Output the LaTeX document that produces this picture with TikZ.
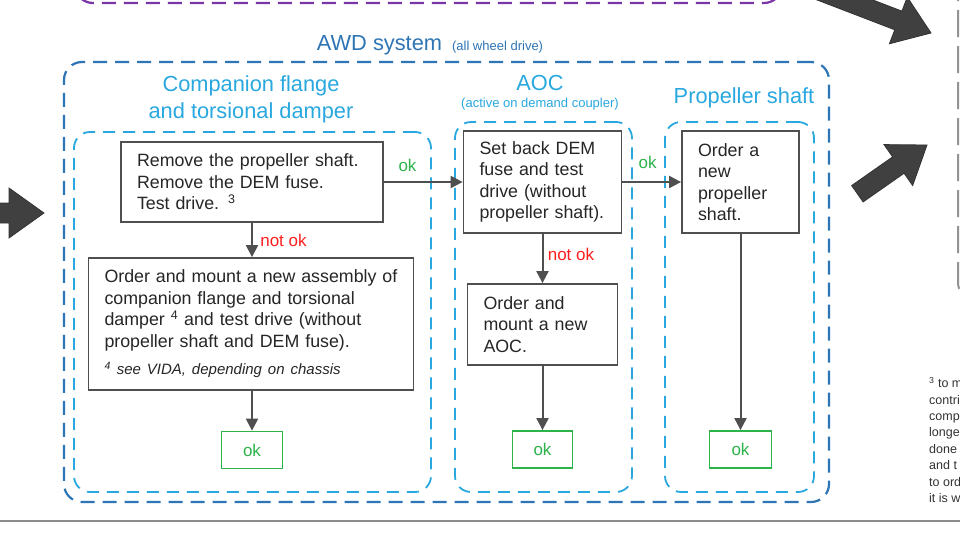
\documentclass[tikz,border=0pt]{standalone}
\usepackage{fontspec}
\setmainfont{Liberation Sans}
\usetikzlibrary{arrows.meta}
\definecolor{awdblue}{HTML}{2E75B6}
\definecolor{grpblue}{HTML}{29A8E0}
\definecolor{boxgray}{HTML}{4F4F4F}
\definecolor{okgreen}{HTML}{2DB34A}
\definecolor{notred}{HTML}{FF1F1F}
\definecolor{prevpurple}{HTML}{7A35A8}
\definecolor{bigarrow}{HTML}{404040}
\begin{document}
\begin{tikzpicture}[x=1pt, y=-1pt,
  task/.style={draw=boxgray, line width=1.8pt, fill=white, text=black!85, align=left, inner xsep=16pt, inner ysep=0pt, font=\fontsize{17.8}{21.5}\selectfont},
  okbox/.style={draw=okgreen, line width=1.8pt, fill=white, text=okgreen, inner sep=0pt, minimum width=61pt, minimum height=37pt, font=\fontsize{17}{20}\selectfont},
  group/.style={draw=grpblue, line width=1.8pt, dash pattern=on 12pt off 8pt, rounded corners=16pt, inner sep=0pt},
  grouptitle/.style={text=grpblue, align=center, font=\fontsize{21.8}{27}\selectfont},
  flow/.style={draw=boxgray, line width=2pt, -{Triangle[length=12pt,width=12pt]}},
  oklabel/.style={text=okgreen, font=\fontsize{17}{20}\selectfont},
  nolabel/.style={text=notred, font=\fontsize{17}{20}\selectfont}]
\useasboundingbox (0,0) rectangle (960,541);
\clip (0,0) rectangle (960,541);
\fill[white] (0,0) rectangle (960,541);
% what lies around the AWD part
\draw[prevpurple, line width=2.2pt, dash pattern=on 14pt off 8pt, rounded corners=18pt] (75,-40) rectangle (782,3);
\draw[gray!85, line width=2pt, dash pattern=on 27pt off 9pt, rounded corners=14pt] (958,-40) rectangle (1010,297);
\draw[gray!90, line width=1.5pt] (0,521) -- (960,521);
\foreach \tip/\ang/\tail in {{44,213}/0/80, {931,33}/-21/130, {927,145}/35/85}
  \filldraw[fill=bigarrow, draw=black!80, line width=0.8pt, shift={(\tip)}, rotate=\ang]
    (0,0) -- (-35,-25) -- (-35,-10) -- (-\tail,-10) -- (-\tail,10) -- (-35,10) -- (-35,25) -- cycle;
\node[anchor=north west, align=left, inner sep=0pt, text=black!80, font=\fontsize{12.5}{16.4}\selectfont] (note) at (929,377)
  {\textsuperscript{3} to m\\contri\\comp\\longe\\done\\and t\\to ord\\it is w};
% groups
\node[group, draw=awdblue, line width=2.2pt, dash pattern=on 14pt off 8pt, rounded corners=18pt, minimum width=765pt, minimum height=440pt] (awd) at (446.5,282) {};
\node[group, minimum width=357pt, minimum height=360pt] (compgrp) at (252.5,312) {};
\node[group, minimum width=177pt, minimum height=370pt] (aocgrp) at (543.5,307) {};
\node[group, minimum width=149pt, minimum height=370pt] (propgrp) at (739.5,307) {};
\node[text=awdblue, font=\fontsize{21.8}{27}\selectfont] (awdtitle) at (430,45)
  {AWD system\hspace{10pt}{\fontsize{13}{15}\selectfont(all wheel drive)}};
\node[grouptitle] (comptitle) at (251,99.5) {Companion flange\\and torsional damper};
\node[grouptitle] (aoctitle) at (540,83) {AOC};
\node[text=grpblue, font=\fontsize{13}{15}\selectfont] (aocsub) at (540,104) {(active on demand coupler)};
\node[grouptitle] (proptitle) at (744,97.5) {Propeller shaft};
% steps
\node[task, text width=230pt, minimum height=80pt] (rm) at (252,182)
  {Remove the propeller shaft.\\Remove the DEM fuse.\\Test drive. \textsuperscript{3}};
\node[task, text width=293pt, minimum height=132pt] (mount) at (251,324)
  {Order and mount a new assembly of\\companion flange and torsional\\damper \textsuperscript{4} and test drive (without\\propeller shaft and DEM fuse).\\[6pt]
   {\fontsize{15}{18}\selectfont\itshape\textsuperscript{4} see VIDA, depending on chassis}};
\node[okbox] (okA) at (252,450) {ok};
\node[task, text width=126pt, minimum height=102pt] (setback) at (542.5,182)
  {Set back DEM\\fuse and test\\drive (without\\propeller~shaft).};
\node[task, text width=118pt, minimum height=81pt] (aoc) at (542.5,324.5)
  {Order and\\mount a new\\AOC.};
\node[okbox, minimum width=60pt] (okB) at (542.5,449.5) {ok};
\node[task, text width=85pt, minimum height=102pt] (prop) at (740.5,182)
  {Order a\\new\\propeller\\shaft.};
\node[okbox, minimum width=62pt] (okC) at (740.5,449.5) {ok};
% flow
\draw[flow] (rm) -- node[oklabel, above=6pt, pos=0.3] {ok} (setback);
\draw[flow] (setback) -- node[oklabel, above=9pt, pos=0.43] {ok} (prop);
\draw[flow] (rm.south) -- node[nolabel, right=4pt, pos=0.5] {not ok} (rm.south |- mount.north);
\draw[flow] (okA.north |- mount.south) -- (okA);
\draw[flow] (setback) -- node[nolabel, right=1pt, pos=0.41] {not ok} (aoc);
\draw[flow] (aoc) -- (okB);
\draw[flow] (prop) -- (okC);
\end{tikzpicture}
\end{document}
